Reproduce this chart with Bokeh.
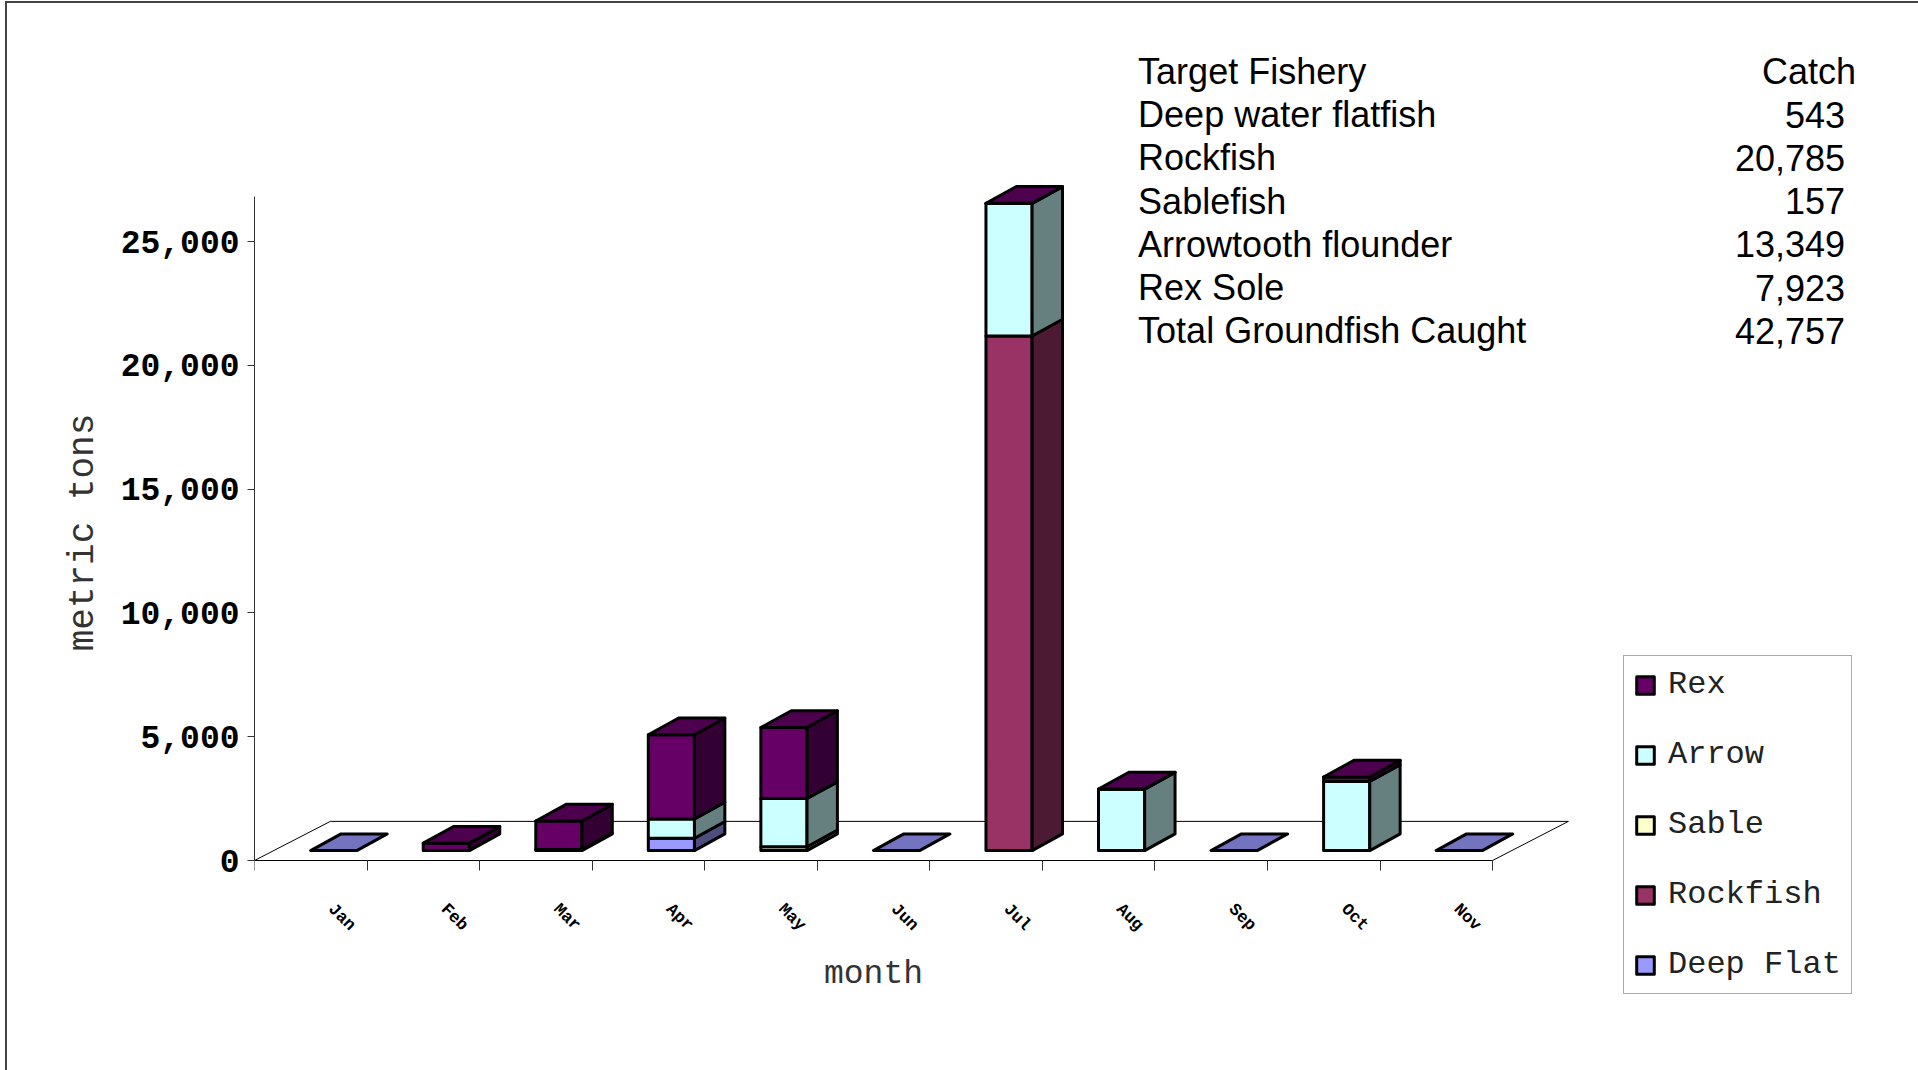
import math
from bokeh.plotting import figure
from bokeh.models import (Range1d, FixedTicker, NumeralTickFormatter, Legend,
                          LegendItem, ColumnDataSource, LinearAxis)
from bokeh.core.properties import value
from bokeh.embed import file_html
from bokeh.resources import INLINE

# ---------------- data ----------------
months = ["Jan", "Feb", "Mar", "Apr", "May", "Jun", "Jul", "Aug", "Sep", "Oct", "Nov"]
deep_flat = [0, 0, 43, 500, 0, 0, 0, 0, 0, 0, 0]
rockfish = [0, 0, 0, 0, 0, 0, 20785, 0, 0, 0, 0]
sable = [0, 0, 0, 0, 157, 0, 0, 0, 0, 0, 0]
arrow = [0, 0, 0, 780, 1945, 0, 5350, 2480, 0, 2790, 0]
rex = [0, 300, 1150, 3400, 2870, 0, 10, 10, 0, 180, 0]

stack_order = ["Deep Flat", "Rockfish", "Sable", "Arrow", "Rex"]      # bottom -> top
legend_order = ["Rex", "Arrow", "Sable", "Rockfish", "Deep Flat"]
series = {"Deep Flat": deep_flat, "Rockfish": rockfish, "Sable": sable,
          "Arrow": arrow, "Rex": rex}

y_ticks = [0, 5000, 10000, 15000, 20000, 25000]

table_header = ["Target Fishery", "Catch"]
table_fishery = ["Deep water flatfish", "Rockfish", "Sablefish",
                 "Arrowtooth flounder", "Rex Sole", "Total Groundfish Caught"]
table_catch = [543, 20785, 157, 13349, 7923, 42757]

# front, side, top colours
COLORS = {
    "Deep Flat": ("#9999FF", "#4D4D80", "#7373BF"),
    "Rockfish": ("#993366", "#4D1A33", "#73264D"),
    "Sable": ("#FFFFCC", "#808066", "#BFBF99"),
    "Arrow": ("#CCFFFF", "#668080", "#99BFBF"),
    "Rex": ("#660066", "#330033", "#4D004D"),
}

# ---------------- layout ----------------
OFFX, OFFY = 7, 3             # page position of the canvas
AXIS_X, AXIS_Y = 254, 860     # page position of the axes corner
X_PX = 112.55                 # px per month slot
Y_PX = 0.02476                # px per metric ton
X0 = -0.68                    # data x of the left edge of the first slot
TOP = 45                      # canvas px above the frame
BOTTOM = 74                   # canvas px below the frame
FW = 1911 - (AXIS_X - OFFX)
FH = 1067 - TOP - BOTTOM
frame_top_page = OFFY + TOP


def dx(px):
    return (px - AXIS_X) / X_PX + X0


def dy(py):
    return (AXIS_Y - py) / Y_PX


FLOOR = (0.674, 1580.0)   # floor depth vector (data units)
SHIFT = (0.204, 400.0)    # bar front-base offset from slot centre
DEPTH = (0.27, 675.0)     # bar depth vector
BW = 0.41                 # bar width
OUT = 3                   # outline width

n = len(months)
centers = [X0 + 0.5 + i for i in range(n)]

p = figure(frame_width=FW, frame_height=FH,
           x_range=Range1d(X0, X0 + FW / X_PX),
           y_range=Range1d(dy(frame_top_page + FH), dy(frame_top_page)),
           output_backend="svg", toolbar_location=None, title=None, min_border=0)
p.min_border_left = AXIS_X - OFFX
p.min_border_bottom = BOTTOM
p.min_border_top = TOP
p.min_border_right = 0
p.margin = (1, 0, 0, 5)
p.styles = {"border-left": "2px solid #444444", "border-top": "2px solid #444444"}
p.grid.visible = False
p.outline_line_color = None
p.background_fill_color = "white"
p.border_fill_color = "white"

# floor
x0, x1 = X0, X0 + n
p.multi_line(xs=[[x0, x0 + FLOOR[0]], [x0 + FLOOR[0], x1 + FLOOR[0]], [x1, x1 + FLOOR[0]]],
             ys=[[0, FLOOR[1]], [FLOOR[1], FLOOR[1]], [0, FLOOR[1]]],
             line_color="black", line_width=1)

# bars
fronts = {s: dict(left=[], right=[], bottom=[], top=[]) for s in stack_order}
sides = {s: dict(xs=[], ys=[]) for s in stack_order}
tops = {s: dict(xs=[], ys=[]) for s in stack_order}
for i in range(n):
    cx = centers[i] + SHIFT[0]
    L, R = cx - BW / 2, cx + BW / 2
    cum = SHIFT[1]
    top_s = None
    for s in stack_order:
        v = series[s][i]
        if v <= 0:
            continue
        b, t = cum, cum + v
        f = fronts[s]
        f["left"].append(L); f["right"].append(R); f["bottom"].append(b); f["top"].append(t)
        sides[s]["xs"].append([R, R + DEPTH[0], R + DEPTH[0], R])
        sides[s]["ys"].append([b, b + DEPTH[1], t + DEPTH[1], t])
        cum = t
        top_s = s
    if top_s is None:
        top_s = stack_order[0]
    tops[top_s]["xs"].append([L, R, R + DEPTH[0], L + DEPTH[0]])
    tops[top_s]["ys"].append([cum, cum, cum + DEPTH[1], cum + DEPTH[1]])

front_r = {}
for s in stack_order:
    fc, sc, tc = COLORS[s]
    front_r[s] = p.quad(source=ColumnDataSource(fronts[s]), left="left", right="right",
                        bottom="bottom", top="top", fill_color=fc, line_color="black",
                        line_width=OUT, line_join="round")
    p.patches(source=ColumnDataSource(sides[s]), xs="xs", ys="ys", fill_color=sc,
              line_color="black", line_width=OUT, line_join="round")
    p.patches(source=ColumnDataSource(tops[s]), xs="xs", ys="ys", fill_color=tc,
              line_color="black", line_width=OUT, line_join="round")

# y axis
ya = p.yaxis[0]
ya.ticker = FixedTicker(ticks=y_ticks, minor_ticks=[])
ya.formatter = NumeralTickFormatter(format="0,0")
ya.bounds = (0, dy(196))
ya.major_tick_out = 7
ya.major_tick_in = 0
ya.minor_tick_out = 0
ya.minor_tick_in = 0
ya.major_label_text_font = "Liberation Mono"
ya.major_label_text_font_style = "bold"
ya.major_label_text_font_size = "33px"
ya.major_label_text_color = "black"
ya.major_label_standoff = 8
ya.axis_line_color = "#333333"
ya.major_tick_line_color = "#333333"

# y-axis title, placed as the single label of an outer axis
MT_SIZE = 36
MT_Y = int(round(dy(532 - 11 * 0.6 * MT_SIZE / 2)))
ya2 = LinearAxis(ticker=FixedTicker(ticks=[MT_Y], minor_ticks=[]),
                 major_label_overrides={MT_Y: "metric tons"},
                 major_label_orientation=math.pi / 2,
                 major_label_standoff=28,
                 major_label_text_font="Liberation Mono",
                 major_label_text_font_size=f"{MT_SIZE}px",
                 major_label_text_color="#333333",
                 axis_line_color=None, major_tick_line_color=None,
                 minor_tick_line_color=None)
p.add_layout(ya2, "left")

# x axis drawn at the front edge of the floor
xa = p.xaxis[0]
xa.fixed_location = 0
xa.ticker = FixedTicker(ticks=list(range(n)),
                        minor_ticks=[X0 + i for i in range(n + 1)])
xa.major_label_overrides = {i: m for i, m in enumerate(months)}
xa.bounds = (X0, X0 + n)
xa.major_tick_out = 0
xa.major_tick_in = 0
xa.minor_tick_out = 10
xa.minor_tick_in = 0
xa.major_label_orientation = -math.pi / 4
xa.major_label_standoff = 36
xa.major_label_text_font = "Liberation Mono"
xa.major_label_text_font_style = "bold"
xa.major_label_text_font_size = "17px"
xa.major_label_text_color = "black"
xa.axis_line_color = "black"
xa.minor_tick_line_color = "#333333"

# x-axis title
p.text(x=[(centers[0] + centers[-1]) / 2], y=[dy(974)], text=["month"],
       text_align="center", text_baseline="middle",
       text_font=value("Liberation Mono"), text_font_size="33px", text_color="#333333")

# table
ROW0, PITCH = 71, 43.2
TXT = dict(text_font=value("Liberation Sans"), text_font_size="36px",
           text_baseline="middle", text_color="black")
p.text(x=[dx(1137.6)], y=[dy(ROW0)], text=[table_header[0]], text_align="left", **TXT)
p.text(x=[dx(1855.6)], y=[dy(ROW0)], text=[table_header[1]], text_align="right", **TXT)
rows_y = [dy(ROW0 + PITCH * (k + 1)) for k in range(len(table_fishery))]
p.text(x=[dx(1137.6)] * len(table_fishery), y=rows_y, text=table_fishery,
       text_align="left", **TXT)
p.text(x=[dx(1844.6)] * len(table_catch), y=rows_y,
       text=[f"{v:,}" for v in table_catch], text_align="right", **TXT)

# legend (inside the frame)
frame_bottom_page = frame_top_page + FH
legend = Legend(items=[LegendItem(label=s, renderers=[front_r[s]]) for s in legend_order],
                location=(1623 - AXIS_X, frame_bottom_page - min(1015, frame_bottom_page - 2)),
                label_text_font="Liberation Mono", label_text_font_size="32px",
                label_text_color="#222222",
                glyph_width=22, glyph_height=22, label_standoff=12, padding=10,
                spacing=33, label_height=36, margin=0,
                border_line_color="#555555", border_line_width=1,
                background_fill_color="white", background_fill_alpha=1.0)
p.add_layout(legend)

open("out.html", "w").write(file_html(p, INLINE))
